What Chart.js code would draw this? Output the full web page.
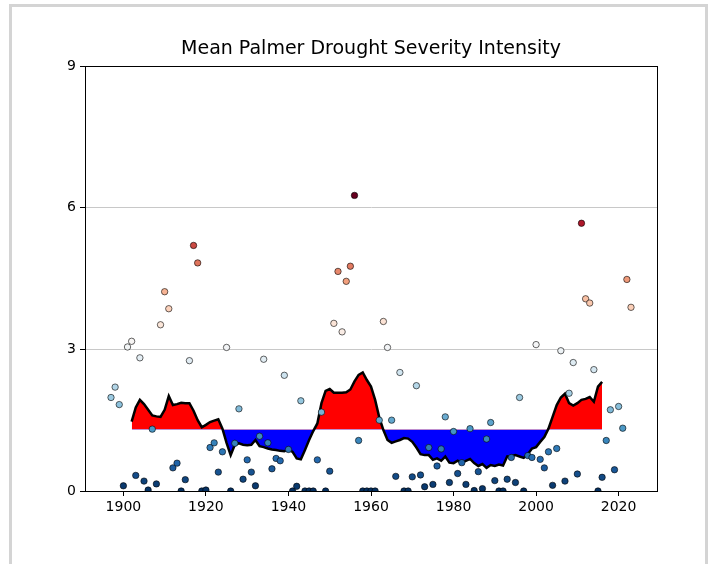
<!DOCTYPE html>
<html>
<head>
<meta charset="utf-8">
<script src="https://cdn.jsdelivr.net/npm/chart.js@4.4.1/dist/chart.umd.min.js"></script>
<style>
  html, body { margin: 0; padding: 0; background: #fff; }
  #wrap { position: relative; width: 715px; height: 564px; }
  #frame {
    position: absolute; left: 9px; top: 4px; width: 699px; height: 570px;
    border: 3px solid #d4d4d4; box-sizing: border-box; pointer-events: none;
  }
</style>
</head>
<body>
<div id="wrap">
  <canvas id="chart" width="715" height="564"></canvas>
  <div id="frame"></div>
</div>
<script>
// yearly values (scatter)
const years = [];
for (let y = 1897; y <= 2023; y++) years.push(y);
const values = [
  1.98, 2.20, 1.83, 0.11, 3.05, 3.17, 0.33, 2.82, 0.21, 0.02,
  1.31, 0.15, 3.52, 4.22, 3.86, 0.49, 0.59, 0.00, 0.24, 2.76,
  5.20, 4.83, 0.00, 0.02, 0.92, 1.02, 0.40, 0.83, 3.04, 0.00,
  1.01, 1.74, 0.25, 0.66, 0.40, 0.11, 1.16, 2.79, 1.02, 0.47,
  0.69, 0.64, 2.45, 0.88, 0.00, 0.10, 1.91, 0.00, 0.00, 0.00,
  0.66, 1.67, 0.00, 0.42, 3.55, 4.65, 3.37, 4.44, 4.76, 6.26,
  1.07, 0.00, 0.00, 0.00, 0.00, 1.50, 3.59, 3.04, 1.50, 0.31,
  2.51, 0.00, 0.00, 0.30, 2.23, 0.34, 0.09, 0.92, 0.14, 0.53,
  0.89, 1.57, 0.18, 1.26, 0.37, 0.60, 0.14, 1.32, 0.01, 0.41,
  0.05, 1.10, 1.45, 0.22, 0.00, 0.00, 0.25, 0.71, 0.18, 1.98,
  0.00, 0.75, 0.71, 3.10, 0.67, 0.49, 0.83, 0.12, 0.90, 2.97,
  0.21, 2.07, 2.72, 0.36, 5.67, 4.07, 3.98, 2.57, 0.00, 0.29,
  1.07, 1.72, 0.45, 1.79, 1.33, 4.48, 3.89
];

// smoothed line 1902-2016
const smoothYears = [];
for (let y = 1902; y <= 2016; y++) smoothYears.push(y);
const smoothValues = [
  1.47, 1.77, 1.93, 1.84, 1.72, 1.60, 1.58, 1.57, 1.72, 2.01,
  1.82, 1.84, 1.87, 1.86, 1.86, 1.70, 1.50, 1.35, 1.40, 1.46,
  1.49, 1.52, 1.32, 1.02, 0.76, 0.98, 1.01, 0.98, 0.97, 0.98,
  1.08, 0.95, 0.93, 0.90, 0.88, 0.87, 0.85, 0.84, 0.88, 0.83,
  0.69, 0.67, 0.87, 1.08, 1.27, 1.43, 1.86, 2.12, 2.16, 2.08,
  2.08, 2.08, 2.09, 2.15, 2.32, 2.46, 2.51, 2.35, 2.21, 1.93,
  1.56, 1.29, 1.08, 1.02, 1.05, 1.08, 1.12, 1.11, 1.04, 0.92,
  0.78, 0.76, 0.76, 0.66, 0.69, 0.64, 0.73, 0.60, 0.59, 0.64,
  0.59, 0.64, 0.68, 0.59, 0.53, 0.57, 0.49, 0.55, 0.53, 0.56,
  0.54, 0.73, 0.74, 0.76, 0.73, 0.70, 0.78, 0.90, 0.93, 1.04,
  1.14, 1.32, 1.57, 1.82, 1.98, 2.06, 1.86, 1.81, 1.86, 1.93,
  1.95, 1.99, 1.89, 2.21, 2.31
];
const baseline = 1.30;

const xTicks = [1900, 1920, 1940, 1960, 1980, 2000, 2020];
const yTicks = [0, 3, 6, 9];

// RdBu_r colormap
const cmap = ["#053061", "#2166ac", "#4393c3", "#92c5de", "#d1e5f0", "#f7f7f7",
              "#fddbc7", "#f4a582", "#d6604d", "#b2182b", "#67001f"];
function hex(c) { return [1, 3, 5].map(i => parseInt(c.substr(i, 2), 16)); }
function colorAt(t) {
  t = Math.max(0, Math.min(1, t)) * (cmap.length - 1);
  const i = Math.min(Math.floor(t), cmap.length - 2), f = t - i;
  const a = hex(cmap[i]), b = hex(cmap[i + 1]);
  return "rgb(" + a.map((v, k) => Math.round(v + (b[k] - v) * f)).join(",") + ")";
}
const vmax = Math.max(...values);

// matplotlib-style box around the axes
const frameBox = {
  id: "frameBox",
  afterDraw(chart) {
    const { ctx, chartArea: a } = chart;
    ctx.save();
    ctx.strokeStyle = "#000";
    ctx.lineWidth = 1;
    ctx.strokeRect(Math.round(a.left) + 0.5, Math.round(a.top) + 0.5,
      Math.round(a.right - a.left), Math.round(a.bottom - a.top));
    ctx.restore();
  }
};

Chart.defaults.font.family = "'DejaVu Sans', sans-serif";
Chart.defaults.color = "#000";

new Chart(document.getElementById("chart"), {
  type: "scatter",
  data: {
    datasets: [
      {
        data: years.map((y, i) => ({ x: y, y: values[i] })),
        pointRadius: 3.2,
        pointHoverRadius: 3.2,
        pointBackgroundColor: values.map(v => colorAt(v / vmax)),
        pointBorderColor: "#000",
        pointBorderWidth: 0.6,
        order: 0
      },
      {
        data: smoothYears.map((y, i) => ({ x: y, y: smoothValues[i] })),
        showLine: true,
        borderColor: "#000",
        borderWidth: 2.5,
        pointRadius: 0,
        tension: 0,
        fill: { target: { value: baseline }, above: "rgb(255,0,0)", below: "rgb(0,0,255)" },
        order: 1
      }
    ]
  },
  options: {
    responsive: false,
    animation: false,
    events: [],
    layout: { padding: { left: 27, right: 0, top: 0, bottom: 0 } },
    plugins: {
      legend: { display: false },
      tooltip: { enabled: false },
      title: {
        display: true,
        text: "Mean Palmer Drought Severity Intensity",
        font: { size: 19, weight: "normal" },
        padding: { top: 37.6, bottom: 5.6 }
      }
    },
    scales: {
      x: {
        type: "linear",
        min: 1890.7,
        max: 2029.3,
        afterBuildTicks: (s) => { s.ticks = xTicks.map(v => ({ value: v })); },
        afterFit: (s) => { s.height = 73; },
        ticks: { font: { size: 14 }, padding: 3, maxRotation: 0, callback: v => String(v) },
        grid: { drawOnChartArea: false, drawTicks: true, tickLength: 5, tickColor: "#000" },
        border: { display: true, color: "#000", width: 1 }
      },
      y: {
        min: 0,
        max: 9,
        afterBuildTicks: (s) => { s.ticks = yTicks.map(v => ({ value: v })); },
        afterFit: (s) => { s.width = 58; },
        ticks: { font: { size: 14 }, padding: 4 },
        grid: { color: "#c8c8c8", lineWidth: 1, tickLength: 5, tickColor: "#000" },
        border: { display: true, color: "#000", width: 1 }
      },
      // empty right-hand margin so the title centres over the plot
      yRight: {
        position: "right",
        display: true,
        min: 0,
        max: 9,
        afterFit: (s) => { s.width = 58; },
        ticks: { display: false },
        grid: { display: false },
        border: { display: false }
      }
    }
  },
  plugins: [frameBox]
});
</script>
</body>
</html>
